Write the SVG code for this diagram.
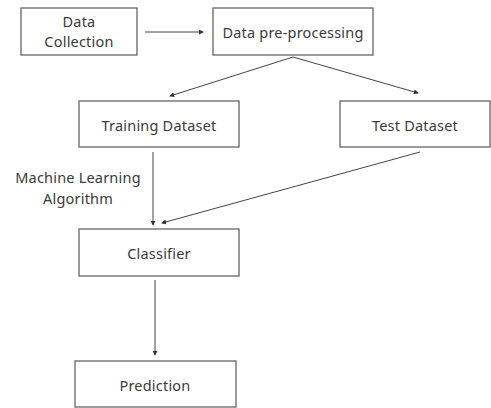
<svg xmlns="http://www.w3.org/2000/svg" width="491" height="408" viewBox="0 0 491 408">
<style>
.box{fill:#fff;stroke:#666;stroke-width:1.3}
.t{font-family:"Noto Sans","Open Sans",sans-serif;font-size:14.5px;letter-spacing:0.2px;fill:#3a3a3a;text-anchor:middle;dominant-baseline:central}
.c{stroke:#444;stroke-width:1;fill:none;marker-end:url(#ah)}
</style>
<defs>
<marker id="ah" viewBox="0 0 6 6" refX="5" refY="3" markerWidth="5" markerHeight="5" orient="auto" markerUnits="userSpaceOnUse">
<path d="M0,0 L6,3 L0,6 Z" fill="#333"/>
</marker>
</defs>
<rect width="491" height="408" fill="#fff"/>
<g id="connectors">
<line class="c" x1="145" y1="32" x2="203" y2="32"/>
<line class="c" x1="293" y1="57" x2="170" y2="96"/>
<line class="c" x1="293" y1="57" x2="418" y2="93"/>
<line class="c" x1="153" y1="152" x2="153" y2="225"/>
<line class="c" x1="420" y1="152" x2="162" y2="223"/>
<line class="c" x1="155" y1="280" x2="155" y2="355"/>
</g>
<g id="n-collection"><rect class="box" x="21" y="8" width="116" height="47"/><text class="t" x="79" y="21">Data</text><text class="t" x="79" y="41">Collection</text></g>
<g id="n-preprocessing"><rect class="box" x="213" y="8" width="160" height="47"/><text class="t" x="293" y="32">Data pre-processing</text></g>
<g id="n-training"><rect class="box" x="79" y="101" width="160" height="46"/><text class="t" x="159" y="125">Training Dataset</text></g>
<g id="n-test"><rect class="box" x="340" y="101" width="150" height="46"/><text class="t" x="415" y="125">Test Dataset</text></g>
<g id="n-label"><text class="t" x="78" y="177">Machine Learning</text><text class="t" x="78" y="198">Algorithm</text></g>
<g id="n-classifier"><rect class="box" x="79" y="229" width="160" height="47"/><text class="t" x="159" y="253">Classifier</text></g>
<g id="n-prediction"><rect class="box" x="75" y="361" width="161" height="46"/><text class="t" x="155" y="385">Prediction</text></g>
</svg>
